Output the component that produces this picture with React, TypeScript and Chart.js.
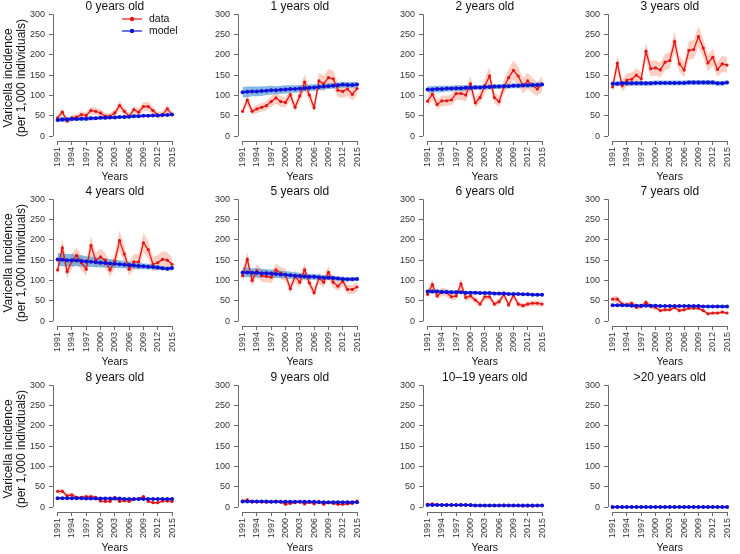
import React, { useEffect, useRef } from "react";
import { Chart, registerables } from "chart.js";
Chart.register(...registerables);

const years = [1991, 1992, 1993, 1994, 1995, 1996, 1997, 1998, 1999, 2000, 2001, 2002, 2003, 2004, 2005, 2006, 2007, 2008, 2009, 2010, 2011, 2012, 2013, 2014, 2015];
const xTickValues = [1991, 1994, 1997, 2000, 2003, 2006, 2009, 2012, 2015];
const yTickValues = [0, 50, 100, 150, 200, 250, 300];
const panelTitles = ["0 years old", "1 years old", "2 years old", "3 years old", "4 years old", "5 years old", "6 years old", "7 years old", "8 years old", "9 years old", "10\u201319 years old", ">20 years old"];
const legendLabels = ["data", "model"];
const xAxisTitle = "Years";
const yAxisTitle = ["Varicella incidence", "(per 1,000 individuals)"];

const dataByAge = [
  [45, 59, 37, 45, 47, 53, 51, 63, 61, 57, 49, 49, 57, 75, 61, 49, 65, 59, 73, 73, 63, 52, 53, 67, 53],
  [61, 89, 61, 67, 71, 75, 85, 94, 85, 83, 102, 71, 99, 133, 101, 70, 136, 129, 144, 141, 113, 110, 116, 103, 117],
  [86, 103, 78, 87, 87, 89, 105, 105, 101, 129, 82, 95, 124, 148, 95, 85, 121, 144, 162, 148, 124, 136, 125, 116, 128],
  [121, 179, 124, 138, 140, 150, 141, 209, 166, 168, 163, 182, 186, 233, 178, 163, 211, 213, 245, 217, 180, 194, 164, 178, 175],
  [126, 180, 122, 148, 162, 144, 128, 186, 150, 158, 150, 126, 148, 198, 165, 128, 146, 146, 193, 176, 140, 144, 152, 150, 140],
  [112, 152, 100, 124, 112, 110, 108, 126, 118, 114, 80, 110, 96, 126, 94, 70, 106, 96, 120, 96, 86, 98, 78, 78, 84],
  [66, 90, 62, 72, 70, 60, 62, 92, 58, 62, 52, 42, 60, 60, 42, 48, 66, 40, 64, 42, 38, 42, 44, 44, 42],
  [54, 54, 42, 40, 44, 34, 36, 46, 36, 34, 26, 28, 28, 34, 26, 28, 32, 32, 32, 26, 18, 20, 20, 22, 20],
  [39, 39, 28, 30, 24, 24, 26, 26, 24, 15, 14, 14, 24, 14, 16, 14, 19, 20, 26, 14, 11, 11, 15, 15, 14],
  [15, 18, 13, 13, 13, 12, 13, 15, 13, 7, 9, 11, 13, 8, 12, 8, 14, 7, 11, 9, 7, 7, 8, 9, 15],
  [7, 8, 6, 5, 5, 5, 5, 6, 5, 4, 4, 4, 4, 4, 4, 4, 5, 4, 4, 4, 3, 3, 3, 4, 4],
  [0.5, 0.5, 0.5, 0.5, 0.5, 0.5, 0.5, 0.5, 0.4, 0.4, 0.4, 0.4, 0.4, 0.4, 0.4, 0.4, 0.4, 0.4, 0.4, 0.4, 0.4, 0.4, 0.4, 0.4, 0.4],
];

const dataErrByAge = [
  [8, 9, 6, 7, 7, 8, 8, 10, 9, 9, 8, 8, 9, 12, 10, 8, 10, 9, 11, 11, 10, 8, 8, 10, 8],
  [9, 13, 9, 10, 11, 11, 13, 14, 13, 12, 15, 11, 15, 20, 15, 11, 20, 19, 21, 21, 17, 16, 17, 15, 17],
  [13, 15, 12, 13, 13, 13, 16, 16, 15, 19, 12, 14, 19, 22, 14, 13, 18, 21, 24, 22, 19, 20, 19, 17, 19],
  [15, 20, 15, 16, 16, 17, 16, 22, 19, 19, 18, 20, 20, 25, 20, 18, 23, 23, 26, 23, 20, 21, 18, 20, 19],
  [17, 22, 17, 19, 20, 19, 17, 23, 19, 20, 19, 17, 19, 25, 21, 17, 19, 19, 24, 22, 18, 19, 20, 19, 18],
  [15, 19, 14, 16, 15, 15, 14, 16, 15, 15, 12, 15, 13, 16, 13, 11, 14, 13, 16, 13, 12, 13, 11, 11, 12],
  [10, 13, 9, 10, 10, 9, 9, 13, 9, 9, 8, 7, 9, 9, 7, 8, 10, 7, 10, 7, 6, 7, 7, 7, 7],
  [8, 8, 7, 6, 7, 6, 6, 7, 6, 6, 5, 5, 5, 6, 5, 5, 5, 5, 5, 5, 4, 4, 4, 4, 4],
  [6, 6, 5, 5, 4, 4, 5, 5, 4, 3, 3, 3, 5, 3, 3, 3, 4, 4, 5, 3, 3, 3, 3, 3, 3],
  [3, 4, 3, 3, 3, 3, 3, 3, 3, 2, 2, 2, 3, 2, 3, 2, 3, 2, 2, 2, 2, 2, 2, 2, 3],
  [2, 2, 2, 1, 1, 1, 1, 2, 1, 1, 1, 1, 1, 1, 1, 1, 1, 1, 1, 1, 1, 1, 1, 1, 1],
  [0.3, 0.3, 0.3, 0.3, 0.3, 0.3, 0.3, 0.3, 0.3, 0.3, 0.3, 0.3, 0.3, 0.3, 0.3, 0.3, 0.3, 0.3, 0.3, 0.3, 0.3, 0.3, 0.3, 0.3, 0.3],
];

const modelByAge = [
  [40, 41, 41, 42, 42, 43, 43, 44, 44, 45, 45, 46, 46, 47, 47, 48, 49, 49, 50, 50, 51, 51, 52, 52, 53],
  [108, 109, 110, 110, 111, 112, 113, 113, 114, 115, 116, 116, 117, 118, 119, 120, 121, 122, 123, 124, 125, 127, 126, 126, 127],
  [115, 115, 116, 116, 117, 117, 118, 118, 119, 119, 120, 120, 121, 121, 122, 122, 123, 123, 124, 124, 125, 125, 126, 126, 127],
  [129, 129, 130, 130, 130, 130, 130, 130, 130, 131, 131, 131, 131, 131, 131, 131, 132, 132, 132, 132, 132, 132, 130, 130, 132],
  [152, 151, 150, 150, 149, 148, 147, 146, 145, 144, 143, 142, 141, 140, 139, 138, 137, 136, 135, 134, 133, 132, 130, 129, 131],
  [120, 120, 119, 119, 118, 118, 117, 116, 115, 114, 113, 112, 111, 110, 109, 109, 108, 107, 107, 106, 105, 104, 103, 103, 104],
  [73, 73, 73, 72, 72, 71, 71, 71, 70, 70, 70, 69, 69, 69, 68, 68, 68, 67, 67, 67, 66, 66, 65, 65, 65],
  [39, 39, 39, 39, 38, 38, 38, 38, 38, 38, 37, 37, 37, 37, 37, 37, 37, 37, 37, 36, 36, 36, 36, 36, 36],
  [22, 22, 22, 22, 22, 22, 21, 21, 21, 21, 21, 21, 21, 21, 20, 20, 20, 20, 20, 20, 20, 20, 20, 20, 20],
  [14, 14, 14, 14, 14, 14, 13, 13, 13, 13, 13, 13, 13, 13, 13, 13, 12, 12, 12, 12, 12, 12, 12, 12, 12],
  [5, 5, 5, 5, 5, 5, 5, 5, 5, 5, 4, 4, 4, 4, 4, 4, 4, 4, 4, 4, 4, 4, 4, 4, 4],
  [0.5, 0.5, 0.5, 0.5, 0.5, 0.5, 0.5, 0.5, 0.5, 0.5, 0.5, 0.5, 0.5, 0.5, 0.5, 0.5, 0.5, 0.5, 0.5, 0.5, 0.5, 0.5, 0.5, 0.5, 0.5],
];

const modelErrByAge = [
  [6, 6, 6, 5, 5, 5, 5, 5, 4, 4, 4, 4, 4, 4, 4, 4, 4, 4, 3, 3, 3, 3, 3, 3, 3],
  [13, 13, 12, 12, 12, 11, 11, 10, 10, 10, 9, 9, 9, 8, 8, 8, 8, 7, 7, 7, 7, 7, 7, 7, 7],
  [8, 8, 8, 8, 7, 7, 7, 7, 7, 6, 6, 6, 6, 6, 6, 6, 6, 6, 6, 6, 6, 6, 6, 6, 6],
  [6, 6, 6, 6, 6, 6, 6, 6, 6, 6, 6, 6, 6, 6, 6, 6, 6, 6, 6, 6, 6, 6, 6, 6, 5],
  [16, 16, 15, 15, 14, 14, 13, 13, 12, 12, 11, 11, 10, 10, 9, 9, 8, 8, 7, 7, 6, 6, 5, 5, 5],
  [12, 12, 11, 11, 11, 10, 10, 10, 9, 9, 9, 8, 8, 8, 7, 7, 7, 6, 6, 6, 5, 5, 5, 5, 5],
  [5, 5, 5, 5, 5, 5, 5, 4, 4, 4, 4, 4, 4, 4, 4, 4, 4, 3, 3, 3, 3, 3, 3, 3, 3],
  [3, 3, 3, 3, 3, 3, 3, 3, 3, 3, 3, 3, 3, 3, 3, 3, 3, 3, 3, 3, 3, 3, 3, 3, 3],
  [2, 2, 2, 2, 2, 2, 2, 2, 2, 2, 2, 2, 2, 2, 2, 2, 2, 2, 2, 2, 2, 2, 2, 2, 2],
  [2, 2, 2, 2, 2, 2, 2, 2, 2, 2, 2, 2, 2, 2, 2, 2, 2, 2, 2, 2, 2, 2, 2, 2, 2],
  [1, 1, 1, 1, 1, 1, 1, 1, 1, 1, 1, 1, 1, 1, 1, 1, 1, 1, 1, 1, 1, 1, 1, 1, 1],
  [0.5, 0.5, 0.5, 0.5, 0.5, 0.5, 0.5, 0.5, 0.5, 0.5, 0.5, 0.5, 0.5, 0.5, 0.5, 0.5, 0.5, 0.5, 0.5, 0.5, 0.5, 0.5, 0.5, 0.5, 0.5],
];

const FONT = "'Liberation Sans', Arial, Helvetica, sans-serif";
const RED = "rgb(226,22,24)";
const BLUE = "rgb(18,18,215)";
const RED_BAND = "rgba(250,135,105,0.40)";
const BLUE_BAND = "rgba(60,140,210,0.62)";
const AXIS = "#6a6a6a";
const PANEL_W = 185;
const PANEL_H = 185;
const colLefts = [0, 185, 370, 555];
const rowTops = [0, 185, 371];

function makeDecor(idx: number) {
  return {
    id: "decor" + idx,
    afterDraw(chart: any) {
      const { ctx, chartArea, scales } = chart;
      const xs = scales.x;
      const ys = scales.y;
      ctx.save();
      ctx.strokeStyle = AXIS;
      ctx.lineWidth = 1;
      const ax = Math.round(chartArea.left) + 0.5;
      ctx.beginPath();
      ctx.moveTo(ax, ys.getPixelForValue(yTickValues[0]));
      ctx.lineTo(ax, ys.getPixelForValue(yTickValues[yTickValues.length - 1]));
      ctx.stroke();
      const ay = Math.round(chartArea.bottom) + 0.5;
      ctx.beginPath();
      ctx.moveTo(xs.getPixelForValue(xTickValues[0]), ay);
      ctx.lineTo(xs.getPixelForValue(xTickValues[xTickValues.length - 1]), ay);
      ctx.stroke();

      const cx = (chartArea.left + chartArea.right) / 2;
      ctx.fillStyle = "#111";
      ctx.textAlign = "center";
      ctx.textBaseline = "middle";
      ctx.font = `12px ${FONT}`;
      ctx.fillText(panelTitles[idx], cx, 7);
      ctx.font = `10.5px ${FONT}`;
      ctx.fillText(xAxisTitle, cx, 177);

      if (idx % 4 === 0) {
        ctx.save();
        ctx.translate(9, 78);
        ctx.rotate(-Math.PI / 2);
        ctx.font = `12px ${FONT}`;
        ctx.fillText(yAxisTitle[0], 0, 0);
        ctx.fillText(yAxisTitle[1], 0, 13);
        ctx.restore();
      }

      if (idx === 0) {
        const items = [
          { label: legendLabels[0], color: RED, y: 19 },
          { label: legendLabels[1], color: BLUE, y: 31 },
        ];
        for (const it of items) {
          ctx.strokeStyle = it.color;
          ctx.lineWidth = 1.2;
          ctx.beginPath();
          ctx.moveTo(122, it.y);
          ctx.lineTo(142, it.y);
          ctx.stroke();
          ctx.fillStyle = it.color;
          ctx.beginPath();
          ctx.arc(132, it.y, 2.2, 0, Math.PI * 2);
          ctx.fill();
          ctx.fillStyle = "#111";
          ctx.textAlign = "left";
          ctx.font = `10.5px ${FONT}`;
          ctx.fillText(it.label, 149, it.y);
        }
      }
      ctx.restore();
    },
  };
}

function Panel({ idx }: { idx: number }) {
  const ref = useRef<HTMLCanvasElement>(null);
  useEffect(() => {
    const canvas = ref.current;
    if (!canvas) return;
    const d = dataByAge[idx];
    const de = dataErrByAge[idx];
    const m = modelByAge[idx];
    const me = modelErrByAge[idx];
    const pts = (arr: number[]) => years.map((y, i) => ({ x: y, y: arr[i] }));
    const band = { borderWidth: 0, pointRadius: 0, tension: 0 };
    const chart = new Chart(canvas, {
      type: "line",
      data: {
        datasets: [
          { ...band, data: pts(d.map((v, i) => v - de[i])), fill: false, order: 5 } as any,
          { ...band, data: pts(d.map((v, i) => v + de[i])), fill: "-1", backgroundColor: RED_BAND, order: 5 } as any,
          { ...band, data: pts(m.map((v, i) => v - me[i])), fill: false, order: 4 } as any,
          { ...band, data: pts(m.map((v, i) => v + me[i])), fill: "-1", backgroundColor: BLUE_BAND, order: 4 } as any,
          {
            data: pts(d), borderColor: RED, borderWidth: 1.3, pointRadius: 1.6, pointBorderWidth: 0,
            pointBackgroundColor: RED, fill: false, tension: 0, order: 2,
          } as any,
          {
            data: pts(m), borderColor: BLUE, borderWidth: 2, pointRadius: 2, pointBorderWidth: 0,
            pointBackgroundColor: BLUE, fill: false, tension: 0, order: 1,
          } as any,
        ],
      },
      options: {
        responsive: false,
        animation: false,
        devicePixelRatio: 1,
        layout: { padding: { top: 7, right: 2, left: 0, bottom: 0 } },
        plugins: { legend: { display: false }, tooltip: { enabled: false }, title: { display: false } },
        scales: {
          x: {
            type: "linear",
            min: 1990.04,
            max: 2015.96,
            afterBuildTicks: (s: any) => { s.ticks = xTickValues.map((v) => ({ value: v })); },
            afterFit: (s: any) => { s.height = 44; },
            ticks: {
              font: { size: 9, family: FONT }, color: "#333", minRotation: 90, maxRotation: 90,
              padding: 2, autoSkip: false, callback: (v: any) => String(v),
            },
            grid: { drawOnChartArea: false, drawTicks: true, tickLength: 4, color: AXIS },
            border: { display: false },
          },
          y: {
            type: "linear",
            min: -12,
            max: 312,
            afterBuildTicks: (s: any) => { s.ticks = yTickValues.map((v) => ({ value: v })); },
            afterFit: (s: any) => { s.width = 53; },
            ticks: { font: { size: 9, family: FONT }, color: "#333", padding: 4, autoSkip: false, callback: (v: any) => String(v) },
            grid: { drawOnChartArea: false, drawTicks: true, tickLength: 4, color: AXIS },
            border: { display: false },
          },
        },
      } as any,
      plugins: [makeDecor(idx)],
    });
    return () => chart.destroy();
  }, [idx]);
  const col = idx % 4;
  const row = Math.floor(idx / 4);
  return (
    <canvas
      ref={ref}
      width={PANEL_W}
      height={PANEL_H}
      style={{ position: "absolute", left: colLefts[col], top: rowTops[row], width: PANEL_W, height: PANEL_H }}
    />
  );
}

export default function App() {
  return (
    <div style={{ position: "absolute", left: 0, top: 0, width: 740, height: 554, background: "#fff", overflow: "hidden" }}>
      {panelTitles.map((_, i) => (
        <Panel key={i} idx={i} />
      ))}
    </div>
  );
}
